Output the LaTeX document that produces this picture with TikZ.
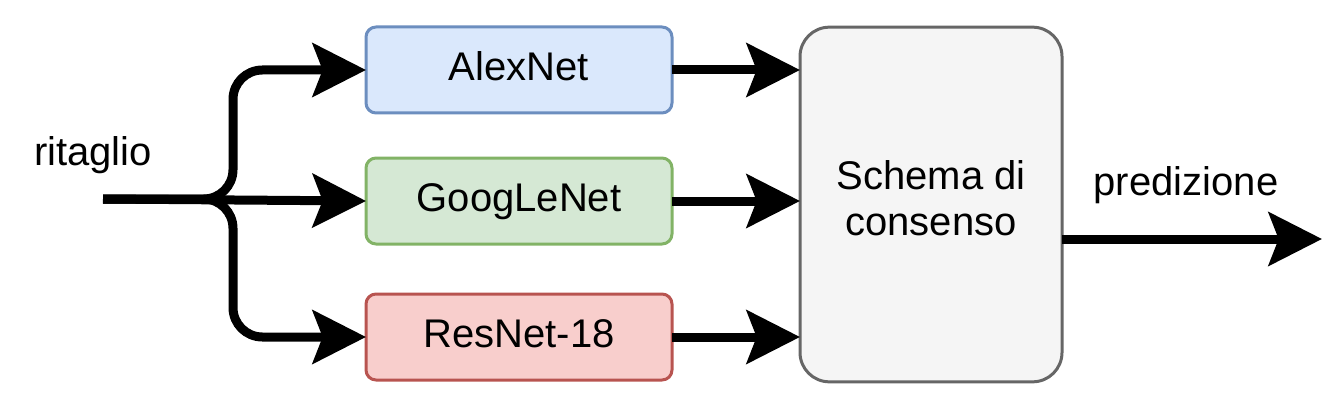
\documentclass[tikz,border=0pt]{standalone}
\usepackage{fontspec}
\setmainfont{Liberation Sans}
\usetikzlibrary{arrows.meta,calc}
\definecolor{bluefill}{HTML}{DAE8FC}
\definecolor{bluedraw}{HTML}{6C8EBF}
\definecolor{greenfill}{HTML}{D5E8D4}
\definecolor{greendraw}{HTML}{82B366}
\definecolor{redfill}{HTML}{F8CECC}
\definecolor{reddraw}{HTML}{B85450}
\definecolor{grayfill}{HTML}{F5F5F5}
\definecolor{graydraw}{HTML}{666666}
\tikzset{
  netbox/.style={rectangle, rounded corners=7.5pt, line width=2.25pt, minimum width=229.5pt, minimum height=64.5pt, inner sep=0pt, outer sep=0pt,
    font=\fontsize{30pt}{36pt}\selectfont, text height=21.75pt, text depth=6pt},
  consbox/.style={rectangle, rounded corners=22pt, line width=2.25pt, draw=graydraw, fill=grayfill, minimum width=196.5pt, minimum height=266pt, inner sep=0pt, outer sep=0pt},
  constext/.style={align=center, font=\fontsize{30pt}{34.5pt}\selectfont, inner sep=0pt},
  lbl/.style={font=\fontsize{30pt}{36pt}\selectfont, anchor=base, inner sep=0pt},
  conn/.style={line width=6.75pt, -{Stealth[length=40pt, width=40pt, inset=7.5pt]}}
}
\begin{document}
\begin{tikzpicture}[x=0.75pt, y=-0.75pt]
\useasboundingbox (0,0) rectangle (1326,417);
\node[netbox, draw=bluedraw, fill=bluefill] (alex) at (519,70) {AlexNet};
\node[netbox, draw=greendraw, fill=greenfill] (goog) at (519,201) {GoogLeNet};
\node[netbox, draw=reddraw, fill=redfill] (res) at (519,337) {ResNet-18};
\node[consbox, label={[constext, yshift=4.5pt]center:Schema di\\consenso}] (cons) at (931,204.5) {};
\node[lbl] (rit) at (93,166) {ritaglio};
\node[lbl] (pred) at (1186,195) {predizione};
\coordinate (in) at (103,199);
\coordinate (br) at (233,199);
\coordinate (outend) at (1322,239);
\draw[conn, rounded corners=22pt] (in) -- (br) |- (alex.west);
\draw[conn] (in) -- (goog.west);
\draw[conn, rounded corners=22pt] (in) -- (br) |- (res.west);
\draw[conn] (alex.east) -- (alex.east -| cons.west);
\draw[conn] (goog.east) -- (goog.east -| cons.west);
\draw[conn] (res.east) -- (res.east -| cons.west);
\draw[conn] (cons.east |- outend) -- (outend);
\end{tikzpicture}
\end{document}
